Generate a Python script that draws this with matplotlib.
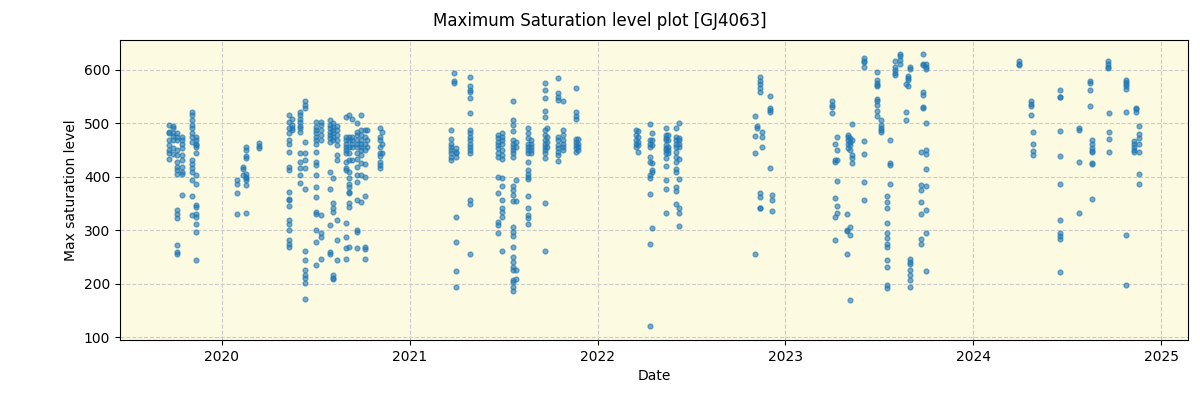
import numpy as np
import pandas as pd
import matplotlib
matplotlib.use('Agg')
import matplotlib.pyplot as plt
import matplotlib.dates as mdates

# observing nights and the max saturation levels read on each
night_dates = [
	'2019-09-21', '2019-09-28', '2019-10-05', '2019-10-15', '2019-11-04', '2019-11-11',
	'2020-01-30', '2020-02-11', '2020-02-18', '2020-03-13',
	'2020-05-11', '2020-05-17', '2020-06-02', '2020-06-10', '2020-07-03', '2020-07-11',
	'2020-07-30', '2020-08-04', '2020-08-12', '2020-08-29', '2020-09-04', '2020-09-11',
	'2020-09-20', '2020-09-28', '2020-10-05', '2020-10-09', '2020-11-03', '2020-11-08',
	'2021-03-22', '2021-03-27', '2021-04-01', '2021-04-28', '2021-06-21', '2021-06-28',
	'2021-07-20', '2021-07-27', '2021-08-18', '2021-08-25', '2021-09-20', '2021-09-24',
	'2021-10-16', '2021-10-25', '2021-11-19', '2021-11-24',
	'2022-03-16', '2022-03-20', '2022-04-12', '2022-04-17', '2022-05-13', '2022-05-18',
	'2022-06-03', '2022-06-09', '2022-11-03', '2022-11-07', '2022-11-12', '2022-11-16',
	'2022-12-03', '2022-12-06',
	'2023-04-02', '2023-04-08', '2023-04-11', '2023-04-30', '2023-05-03', '2023-05-06',
	'2023-05-11', '2023-06-03', '2023-06-28', '2023-07-06', '2023-07-18', '2023-07-23',
	'2023-08-02', '2023-08-11', '2023-08-24', '2023-08-28', '2023-08-31', '2023-09-21',
	'2023-09-26', '2023-10-01',
	'2024-03-30', '2024-04-23', '2024-04-27', '2024-06-18', '2024-07-25', '2024-08-16',
	'2024-08-20', '2024-09-20', '2024-09-22', '2024-10-25', '2024-11-09', '2024-11-12',
	'2024-11-18',
]

night_values = [
	[497, 484, 481, 469, 459, 450, 444, 433],
	[495, 492, 482, 476, 469, 453, 442],
	[481, 475, 469, 450, 441, 428, 419, 412, 406, 337, 331, 322, 272, 259, 255],
	[475, 469, 462, 453, 441, 431, 419, 409, 406, 366],
	[522, 516, 506, 497, 491, 481, 475, 466, 431, 424, 416, 409, 394, 364, 328],
	[475, 469, 462, 459, 456, 444, 403, 386, 347, 344, 331, 325, 312, 297, 245],
	[394, 386, 370, 331],
	[419, 414, 403],
	[455, 451, 439, 436, 406, 400, 397, 394, 384, 333],
	[464, 457, 453],
	[516, 503, 491, 481, 469, 462, 447, 419, 412, 372, 359, 356, 345, 319, 312, 300, 281, 275, 269],
	[509, 497, 492, 487],
	[522, 516, 509, 503, 495, 491, 484, 445, 428, 417, 403, 389],
	[541, 534, 528, 466, 444, 431, 416, 378, 262, 244, 226, 216, 211, 201, 172],
	[503, 494, 487, 481, 475, 469, 462, 447, 428, 422, 403, 381, 362, 334, 331, 300, 278, 234],
	[503, 497, 487, 478, 469, 328, 294, 287, 247],
	[506, 497, 491, 484, 478, 472, 466, 409, 378, 309, 259, 256],
	[500, 494, 487, 481, 475, 469, 397, 351, 341, 334, 216, 211, 208],
	[495, 487, 478, 469, 459, 441, 431, 319, 282, 244],
	[512, 475, 469, 462, 456, 450, 444, 428, 416, 412, 314, 287, 266, 247],
	[516, 475, 469, 456, 444, 431, 409, 397, 387, 381, 372, 369, 350, 344, 269],
	[509, 475, 469, 462, 456, 431],
	[500, 484, 478, 469, 462, 456, 444, 434, 419, 403, 391, 356, 300, 297, 266],
	[516, 487, 478, 469, 462, 456, 450, 441, 425, 403, 353],
	[487, 475, 462, 450, 424, 400, 364, 269, 264, 247],
	[487, 469, 456],
	[492, 475, 469, 456, 444, 439, 428, 422, 417],
	[484, 462, 444],
	[487, 470, 462, 456, 450, 444, 437, 431],
	[595, 580, 576],
	[453, 447, 444, 437, 324, 277, 223, 194],
	[587, 569, 562, 559, 547, 520, 487, 481, 475, 469, 462, 456, 450, 444, 356, 349, 256],
	[478, 472, 466, 459, 453, 444, 437, 400, 369, 316, 309, 294],
	[481, 475, 469, 462, 450, 441, 434, 398, 383, 356, 342, 334, 325, 262],
	[542, 506, 497, 486, 469, 462, 456, 450, 444, 437, 383, 375, 366, 355, 306, 297, 289,
	 269, 250, 241, 231, 225, 206, 203, 194, 187],
	[466, 456, 394, 355, 225, 208],
	[492, 481, 472, 462, 456, 450, 444, 428, 412, 406, 400, 395, 364, 341, 328, 322, 311],
	[469, 462, 456, 450, 444],
	[575, 562, 547, 523, 511, 487, 478, 469, 462, 456, 450, 444, 436, 350, 261],
	[491, 475, 466, 456],
	[584, 556, 550, 544, 475, 469, 459, 453, 447, 441, 429],
	[541, 487, 478, 469, 462, 456, 450],
	[567, 522, 514, 509, 470, 466, 459, 453, 447],
	[470, 462, 456, 450],
	[487, 479, 469, 462, 456],
	[486, 475, 466, 459, 446],
	[499, 469, 462, 456, 437, 428, 403, 397, 367, 274, 120],
	[482, 469, 459, 426, 412, 409, 305],
	[491, 478, 472, 469, 459, 453, 450, 444, 436, 420, 394, 377, 333],
	[478, 469, 456, 450, 444],
	[491, 475, 469, 462, 456, 447, 437, 428, 414, 409, 381, 374, 349],
	[501, 472, 469, 462, 456, 434, 395, 342, 332, 307],
	[514, 476, 444, 256],
	[495, 491],
	[586, 580, 573, 567, 558, 370, 362, 342, 341],
	[484, 475, 455],
	[551, 529, 525, 521, 416],
	[366, 357, 336],
	[541, 534, 531, 519],
	[461, 432, 428, 361, 325, 282],
	[474, 451, 431, 392, 345, 332],
	[331, 301, 299, 256],
	[478, 475, 469, 462, 453],
	[472, 466, 459, 451, 306, 291, 169],
	[498, 469, 441, 436, 425],
	[622, 617, 614, 606, 467, 442, 391, 357],
	[596, 581, 576, 572, 570, 545, 541, 534, 524, 514],
	[507, 497, 492, 487, 483],
	[364, 352, 341, 314, 294, 286, 275, 269, 244, 231, 197, 191],
	[469, 426, 422, 386],
	[617, 606, 600, 595, 591],
	[630, 626, 619, 611],
	[573, 522, 507],
	[589, 584, 582, 569],
	[606, 601, 247, 241, 236, 226, 217, 207, 194],
	[447, 384, 375, 352, 330, 284, 275],
	[629, 612, 609, 559, 553, 531, 528],
	[612, 606, 601, 500, 451, 442, 414, 382, 337, 294, 223],
	[616, 612, 609],
	[542, 537, 533, 516],
	[483, 462, 448, 440],
	[562, 550, 549, 485, 439, 386, 320, 294, 289, 284, 221],
	[491, 487, 427, 333],
	[580, 575, 562, 532],
	[469, 461, 453, 448, 446, 426, 424, 359],
	[616, 611, 606, 603],
	[519, 483, 470, 446],
	[582, 578, 574, 569, 564, 521, 291, 198],
	[467, 461, 455, 450, 447],
	[529, 526, 521],
	[495, 480, 472, 461, 446, 406, 387],
]

dates = []
levels = []
for d, vals in zip(night_dates, night_values):
	dates += [pd.Timestamp(d)] * len(vals)
	levels += vals

fig = plt.figure(figsize=(12, 4), dpi=100)
ax = fig.add_axes([0.1, 0.15, 0.89, 0.75])
ax.set_facecolor('#fcfbe1')
ax.scatter(dates, levels, s=12, color='tab:blue', alpha=0.6, zorder=3)
ax.grid(True, linestyle='--', color='#cccccc', linewidth=0.8, zorder=0)
ax.set_xlim(pd.Timestamp('2019-06-17'), pd.Timestamp('2025-02-22'))
ax.set_ylim(94.5, 656)
ax.xaxis.set_major_locator(mdates.YearLocator())
ax.xaxis.set_major_formatter(mdates.DateFormatter('%Y'))
ax.set_xlabel('Date')
ax.set_ylabel('Max saturation level')
fig.suptitle('Maximum Saturation level plot [GJ4063]', y=0.97)
fig.savefig('out.png')
